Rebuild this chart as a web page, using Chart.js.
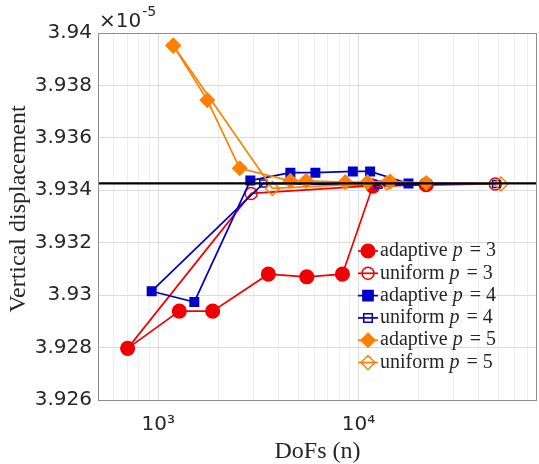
<!DOCTYPE html>
<html>
<head>
<meta charset="utf-8">
<script src="https://cdn.jsdelivr.net/npm/chart.js@4.4.1/dist/chart.umd.min.js"></script>
<style>
  html, body { margin: 0; padding: 0; background: #fff; }
  #wrap { width: 539px; height: 464px; }
</style>
</head>
<body>
<div id="wrap"><canvas id="dispChart" width="539" height="464"></canvas></div>
<script>
// values are in units of 1e-5
const adaptiveP3DoFs = [703, 1274, 1870, 3548, 5520, 8318, 11800, 21800];
const adaptiveP3Vals = [3.92797, 3.92939, 3.92939, 3.93080, 3.93070, 3.93080, 3.93416, 3.93421];
const uniformP3DoFs = [703, 2913, 11900, 48300];
const uniformP3Vals = [3.92797, 3.93388, 3.93418, 3.93424];

const adaptiveP4DoFs = [927, 1514, 2884, 4571, 6096, 9376, 11440, 17780];
const adaptiveP4Vals = [3.93015, 3.92974, 3.93437, 3.93467, 3.93467, 3.93472, 3.93472, 3.93426];
const uniformP4DoFs = [927, 3350, 12590, 48800];
const uniformP4Vals = [3.93015, 3.93426, 3.93421, 3.93424];

const adaptiveP5DoFs = [1189, 1758, 2553, 4571, 5480, 8590, 11090, 14420, 21800];
const adaptiveP5Vals = [3.93952, 3.93744, 3.93484, 3.93436, 3.93436, 3.93431, 3.93431, 3.93433, 3.93428];
const uniformP5DoFs = [1189, 3720, 13870, 51500];
const uniformP5Vals = [3.93952, 3.93407, 3.93428, 3.93424];

const referenceValue = 3.93426;
const xRange = [500, 78000];
const xGridTicks = [600, 700, 800, 900, 1000, 2000, 3000, 4000, 5000, 6000, 7000, 8000, 9000,
                    10000, 20000, 30000, 40000, 50000, 60000, 70000];
const xLabelTicks = { 1000: "10\u00B3", 10000: "10\u2074" };
const yRange = [3.926, 3.94];
const yStep = 0.002;

const seriesLabels = ["adaptive", "uniform", "adaptive", "uniform", "adaptive", "uniform"];
const seriesOrders = [3, 3, 4, 4, 5, 5];
const xTitle = "DoFs (n)";
const yTitle = "Vertical displacement";

const RED = "rgb(240,0,0)";
const BLUE = "rgb(0,0,200)";
const ORANGE = "rgb(255,128,0)";
const TEXT = "#262626";

function toPoints(xs, ys) {
    return xs.map((x, i) => ({ x: x, y: ys[i] }));
}

function series(idx, xs, ys, color, style, filled, radius) {
    return {
        label: seriesLabels[idx],
        pOrder: seriesOrders[idx],
        data: toPoints(xs, ys),
        borderColor: color,
        backgroundColor: filled ? color : "rgba(0,0,0,0)",
        pointBackgroundColor: filled ? color : "rgba(0,0,0,0)",
        pointBorderColor: color,
        pointStyle: style,
        pointRadius: radius,
        pointBorderWidth: 1.5,
        borderWidth: 1.7,
        tension: 0,
        fill: false,
        order: 7 - idx
    };
}

const datasets = [
    series(0, adaptiveP3DoFs, adaptiveP3Vals, RED, "circle", true, 6.8),
    series(1, uniformP3DoFs, uniformP3Vals, RED, "circle", false, 6),
    series(2, adaptiveP4DoFs, adaptiveP4Vals, BLUE, "rect", true, 6),
    series(3, uniformP4DoFs, uniformP4Vals, BLUE, "rect", false, 5),
    series(4, adaptiveP5DoFs, adaptiveP5Vals, ORANGE, "rectRot", true, 7),
    series(5, uniformP5DoFs, uniformP5Vals, ORANGE, "rectRot", false, 7),
    {
        label: "",
        data: [{ x: xRange[0], y: referenceValue }, { x: xRange[1], y: referenceValue }],
        borderColor: "#000",
        borderWidth: 2.2,
        pointRadius: 0,
        fill: false,
        order: 0
    }
];

// box, axis titles, exponent and legend drawn by hand (MATLAB style)
const matlabDecor = {
    id: "matlabDecor",
    afterDraw(chart) {
        const ctx = chart.ctx;
        const a = chart.chartArea;
        ctx.save();
        ctx.strokeStyle = "#8c8c8c";
        ctx.lineWidth = 1;
        ctx.strokeRect(a.left + 0.5, a.top + 0.5, a.right - a.left - 1, a.bottom - a.top);

        ctx.fillStyle = TEXT;
        ctx.textBaseline = "alphabetic";

        // axis titles
        ctx.font = "24px 'Liberation Serif'";
        ctx.textAlign = "center";
        ctx.fillText(xTitle, (a.left + a.right) / 2, 458);
        ctx.save();
        ctx.translate(25, 209);
        ctx.rotate(-Math.PI / 2);
        ctx.fillText(yTitle, 0, 0);
        ctx.restore();

        // exponent
        ctx.textAlign = "left";
        ctx.font = "20px 'DejaVu Sans'";
        ctx.fillText("\u00D710", a.left + 1, a.top - 6);
        const w = ctx.measureText("\u00D710").width;
        ctx.font = "14px 'DejaVu Sans'";
        ctx.fillText("-5", a.left + 1 + w + 1, a.top - 17);

        // legend
        const x0 = a.right - 179;
        const rowH = 22.3;
        const y0 = a.bottom - 149;
        chart.data.datasets.forEach((ds, i) => {
            if (!ds.label) return;
            const y = y0 + i * rowH;
            ctx.strokeStyle = ds.borderColor;
            ctx.lineWidth = 1.7;
            ctx.beginPath();
            ctx.moveTo(x0, y);
            ctx.lineTo(x0 + 20, y);
            ctx.stroke();
            const cx = x0 + 10;
            const r = ds.pointRadius;
            ctx.fillStyle = ds.pointBackgroundColor;
            ctx.lineWidth = 1.5;
            ctx.beginPath();
            if (ds.pointStyle === "circle") {
                ctx.arc(cx, y, r, 0, Math.PI * 2);
            } else if (ds.pointStyle === "rect") {
                ctx.rect(cx - r * 0.85, y - r * 0.85, r * 1.7, r * 1.7);
            } else {
                ctx.moveTo(cx, y - r);
                ctx.lineTo(cx + r, y);
                ctx.lineTo(cx, y + r);
                ctx.lineTo(cx - r, y);
                ctx.closePath();
            }
            ctx.fill();
            ctx.stroke();

            ctx.fillStyle = TEXT;
            ctx.textBaseline = "middle";
            let tx = x0 + 22;
            ctx.font = "20px 'Liberation Serif'";
            ctx.fillText(ds.label + " ", tx, y);
            tx += ctx.measureText(ds.label + " ").width;
            ctx.font = "italic 20px 'Liberation Serif'";
            ctx.fillText("p", tx, y);
            tx += ctx.measureText("p").width;
            ctx.font = "20px 'Liberation Serif'";
            ctx.fillText(" = " + ds.pOrder, tx + 2, y);
        });
        ctx.restore();
    }
};

new Chart(document.getElementById("dispChart").getContext("2d"), {
    type: "line",
    data: { datasets },
    options: {
        responsive: false,
        animation: false,
        layout: { autoPadding: false, padding: { top: 33, right: 2, left: 0, bottom: 0 } },
        plugins: { legend: { display: false }, tooltip: { enabled: false } },
        scales: {
            x: {
                type: "logarithmic",
                min: xRange[0],
                max: xRange[1],
                afterBuildTicks: scale => {
                    scale.ticks = xGridTicks.map(v => ({ value: v }));
                },
                afterFit: scale => {
                    scale.height = 64;
                    scale.paddingLeft = 0;
                    scale.paddingRight = 0;
                },
                ticks: {
                    autoSkip: false,
                    maxRotation: 0,
                    color: TEXT,
                    font: { family: "DejaVu Sans", size: 20 },
                    padding: 13,
                    callback: v => xLabelTicks[v] || ""
                },
                grid: {
                    drawTicks: false,
                    color: c => (c.tick && xLabelTicks[c.tick.value]) ? "#dcdcdc" : "#eeeeee"
                },
                border: { display: false }
            },
            y: {
                min: yRange[0],
                max: yRange[1],
                afterFit: scale => {
                    scale.width = 98;
                    scale.paddingTop = 0;
                    scale.paddingBottom = 0;
                },
                ticks: {
                    stepSize: yStep,
                    color: TEXT,
                    font: { family: "DejaVu Sans", size: 20 },
                    padding: 6,
                    callback: v => String(parseFloat(Number(v).toFixed(3)))
                },
                grid: { drawTicks: false, color: "#dcdcdc" },
                border: { display: false }
            }
        }
    },
    plugins: [matlabDecor]
});
</script>
</body>
</html>
